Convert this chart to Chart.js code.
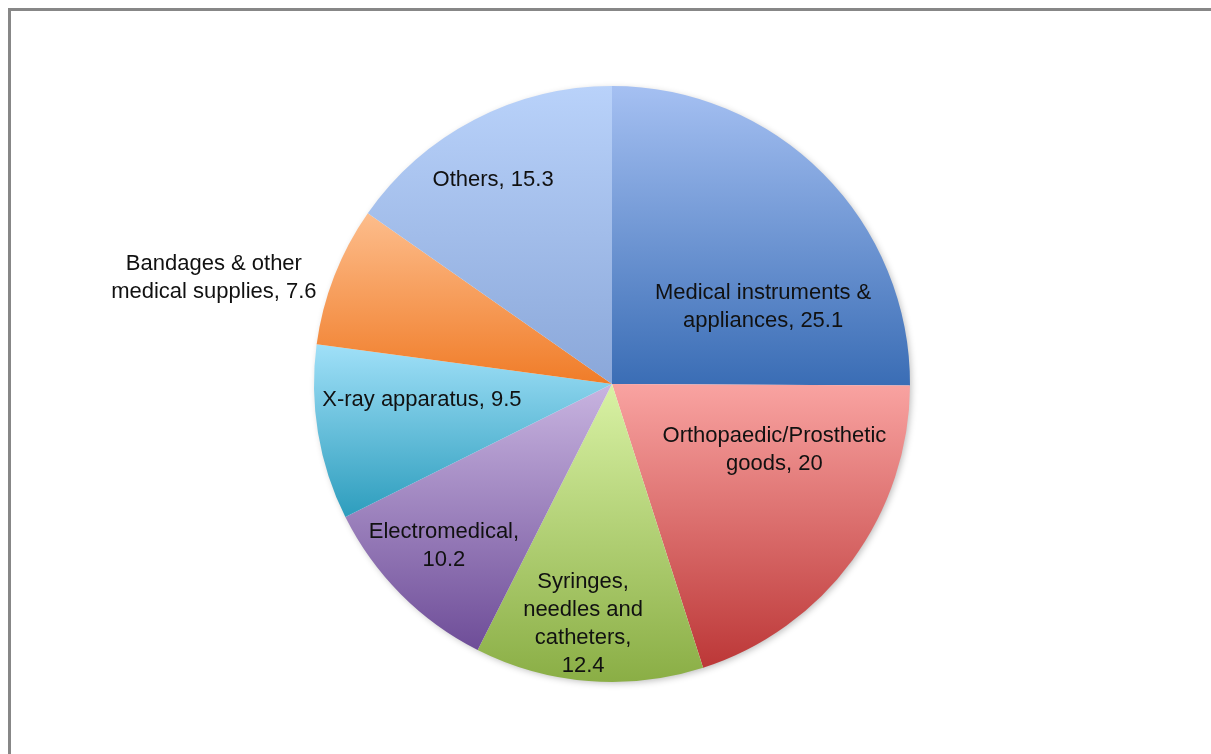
<!DOCTYPE html>
<html>
<head>
<meta charset="utf-8">
<title>Medical devices pie</title>
<script src="https://cdn.jsdelivr.net/npm/chart.js@4.4.0/dist/chart.umd.min.js"></script>
<style>
	html, body { margin: 0; padding: 0; background: #fff; overflow: hidden; }
	#frame { position: absolute; left: 8px; top: 8px; width: 1300px; height: 900px; border-left: 3px solid #878787; border-top: 3px solid #878787; }
	#wrap { position: absolute; left: 0; top: 0; width: 1211px; height: 754px; }
</style>
</head>
<body>
<div id="frame"></div>
<div id="wrap"><canvas id="med-pie" width="1211" height="754"></canvas></div>
<script>
//
// Data
//

var categories = [
	'Medical instruments & appliances',
	'Orthopaedic/Prosthetic goods',
	'Syringes, needles and catheters',
	'Electromedical',
	'X-ray apparatus',
	'Bandages & other medical supplies',
	'Others'
];
var shares = [25.1, 20, 12.4, 10.2, 9.5, 7.6, 15.3];

// gradient colours per slice (top -> bottom)
var colorsTop = ['#a5c0f2', '#f9a3a1', '#d9f2a5', '#c8b4e0', '#a0e0f8', '#fdbd8c', '#b9d2fa'];
var colorsBottom = ['#3a6db5', '#bc3737', '#8aae45', '#6e4d98', '#2d9dbd', '#f07c28', '#8aa7d9'];

// label centre in pie radii from the centre, and wrap width in px
var labelSpots = [
	[0.507, -0.257, 230],
	[0.545, 0.221, 235],
	[-0.097, 0.805, 130],
	[-0.564, 0.544, 160],
	[-0.638, 0.054, 400],
	[-1.336, -0.356, 210],
	[-0.399, -0.685, 400]
];

var labelFont = '22px "Liberation Sans", Arial, sans-serif';
var lineHeight = 28;


//
// Methods
//

function sum(list) {
	return list.reduce(function(a, b) { return a + b; }, 0);
}

// vertical gradient over the slice's own bounding box
function sliceFill(context) {
	var chart = context.chart;
	var area = chart.chartArea;
	var i = context.dataIndex;
	if (!area) return colorsBottom[i];

	var cx = (area.left + area.right) / 2;
	var cy = (area.top + area.bottom) / 2;
	var r = Math.min(area.right - area.left, area.bottom - area.top) / 2;
	var total = sum(shares);
	var a0 = -Math.PI / 2 + 2 * Math.PI * sum(shares.slice(0, i)) / total;
	var a1 = a0 + 2 * Math.PI * shares[i] / total;

	var ys = [cy, cy + r * Math.sin(a0), cy + r * Math.sin(a1)];
	for (var k = Math.ceil(a0 / (Math.PI / 2)); k * Math.PI / 2 < a1; k++) {
		ys.push(cy + r * Math.sin(k * Math.PI / 2));
	}

	var g = chart.ctx.createLinearGradient(0, Math.min.apply(null, ys), 0, Math.max.apply(null, ys));
	g.addColorStop(0, colorsTop[i]);
	g.addColorStop(1, colorsBottom[i]);
	return g;
}

function wrapText(ctx, text, maxWidth) {
	var words = text.split(' ');
	var lines = [];
	var line = '';
	words.forEach(function(w) {
		var test = line ? line + ' ' + w : w;
		if (line && ctx.measureText(test).width > maxWidth) {
			lines.push(line);
			line = w;
		} else {
			line = test;
		}
	});
	lines.push(line);
	return lines;
}

// soft shadow under the pie
var pieShadow = {
	id: 'pieShadow',
	beforeDatasetsDraw: function(chart) {
		var arc = chart.getDatasetMeta(0).data[0];
		if (!arc) return;
		var c = chart.ctx;
		c.save();
		c.shadowColor = 'rgba(0,0,0,0.28)';
		c.shadowBlur = 7;
		c.shadowOffsetX = 2;
		c.shadowOffsetY = 2;
		c.fillStyle = '#ffffff';
		c.beginPath();
		c.arc(arc.x, arc.y, arc.outerRadius - 1, 0, Math.PI * 2);
		c.fill();
		c.restore();
	}
};

// data labels "Category, value"
var sliceLabels = {
	id: 'sliceLabels',
	afterDraw: function(chart) {
		var arc = chart.getDatasetMeta(0).data[0];
		if (!arc) return;
		var c = chart.ctx;
		c.save();
		c.font = labelFont;
		c.fillStyle = '#111111';
		c.textAlign = 'center';
		c.textBaseline = 'middle';
		categories.forEach(function(name, i) {
			var spot = labelSpots[i];
			var lines = wrapText(c, name + ', ' + shares[i], spot[2]);
			var x = arc.x + spot[0] * arc.outerRadius;
			var y = arc.y + spot[1] * arc.outerRadius - (lines.length - 1) * lineHeight / 2;
			lines.forEach(function(l, k) {
				c.fillText(l, x, y + k * lineHeight);
			});
		});
		c.restore();
	}
};


// Init chart
var pieChart = new Chart(document.getElementById('med-pie'), {
	type: 'pie',
	data: {
		labels: categories,
		datasets: [{
			data: shares,
			backgroundColor: sliceFill,
			borderWidth: 0,
			hoverOffset: 0
		}]
	},
	options: {
		responsive: false,
		animation: false,
		layout: {
			padding: { top: 86, bottom: 72, left: 314, right: 301 }
		},
		plugins: {
			legend: { display: false },
			tooltip: { enabled: false }
		}
	},
	plugins: [pieShadow, sliceLabels]
});
</script>
</body>
</html>
